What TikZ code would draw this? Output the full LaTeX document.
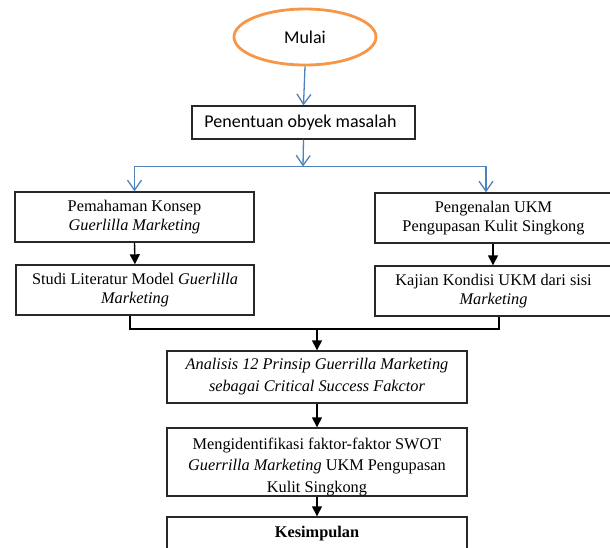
\documentclass[tikz,border=0pt]{standalone}
\usepackage{fontspec}
\setmainfont{Liberation Serif}
\newfontfamily\calib{Carlito}
\usetikzlibrary{arrows.meta,shapes.geometric}
\definecolor{flowblue}{RGB}{79,129,189}
\definecolor{flowor}{RGB}{247,150,70}
\definecolor{boxline}{RGB}{40,40,40}
\tikzset{
  box/.style={draw=boxline, line width=1.4pt, rectangle, inner sep=0pt, align=center,
    font=\fontsize{16.3}{19.5}\selectfont},
  widebox/.style={box, font=\fontsize{16.3}{22}\selectfont},
  boxtext/.style={inner sep=0pt, align=center, font=\fontsize{16.3}{21.5}\selectfont},
  bluearr/.style={draw=flowblue, line width=1.3pt, -{Straight Barb[length=10pt,width=14pt,line width=1.3pt]}},
  blueln/.style={draw=flowblue, line width=1.3pt},
  blackarr/.style={draw=black, line width=1.4pt, -{Triangle[length=10pt,width=10pt]}},
  blackln/.style={draw=black, line width=1.4pt},
}
\begin{document}
\begin{tikzpicture}[x=1pt,y=-1pt]
\useasboundingbox (0,0) rectangle (610,547);
\clip (0,0) rectangle (610,547);
% start
\node[ellipse, draw=flowor, line width=2.8pt, minimum width=142pt, minimum height=56pt,
  inner sep=0pt, font=\calib\fontsize{18}{21}\selectfont] (start) at (305,37) {Mulai};
\node[box, font=\calib\fontsize{18}{21}\selectfont, minimum width=223pt, minimum height=33pt]
  (pen) at (303.5,122.5) {Penentuan obyek masalah\hspace{6pt}};
% left column
\node[box, minimum width=239pt, minimum height=50pt] (l1) at (134.5,217)
  {Pemahaman Konsep\\\textit{Guerlilla Marketing}};
\node[box, minimum width=238pt, minimum height=50pt] (l2) at (135,290)
  {Studi Literatur Model \textit{Guerlilla}\\\textit{Marketing}};
% right column
\node[box, minimum width=237pt, minimum height=50pt] (r1) at (493.5,218)
  {Pengenalan UKM\\Pengupasan Kulit Singkong};
\node[box, minimum width=237pt, minimum height=50pt] (r2) at (493.5,291)
  {Kajian Kondisi UKM dari sisi\\\textit{Marketing}};
% center column
\node[widebox, minimum width=300pt, minimum height=52pt] (c1) at (317,377)
  {\textit{Analisis 12 Prinsip Guerrilla Marketing}\\\textit{sebagai Critical Success Fakctor}};
\node[box, minimum width=300pt, minimum height=68pt] (c2) at (317,462) {};
\node[boxtext] (c2text) at (317,467)
  {Mengidentifikasi faktor-faktor SWOT\\\textit{Guerrilla Marketing} UKM Pengupasan\\Kulit Singkong};
\node[box, minimum width=300pt, minimum height=34pt, font=\bfseries\fontsize{16.3}{19}\selectfont]
  (c3) at (317,534) {Kesimpulan};
% split and merge points
\coordinate (split) at (303,166.5);
\coordinate (merge) at (317,329);
% blue connectors
\draw[bluearr] (start.south) -- (pen.north);
\draw[bluearr] (pen.south) -- (split);
\draw[blueln] (135,166.5) -- (486,166.5);
\draw[bluearr] (split) -| (l1.north);
\draw[bluearr] (split) -| ([xshift=-7.5pt]r1.north);
% black connectors
\draw[blackarr] (l1.south) -- (l2.north);
\draw[blackarr] ([xshift=-0.5pt]r1.south) -- ([xshift=-0.5pt]r2.north);
\draw[blackln] ([xshift=-5pt]l2.south) |- (merge);
\draw[blackln] ([xshift=5.5pt]r2.south) |- (merge);
\draw[blackarr] (merge) -- (c1.north);
\draw[blackarr] (c1.south) -- (c2.north);
\draw[blackarr] (c2.south) -- (c3.north);
\end{tikzpicture}
\end{document}
